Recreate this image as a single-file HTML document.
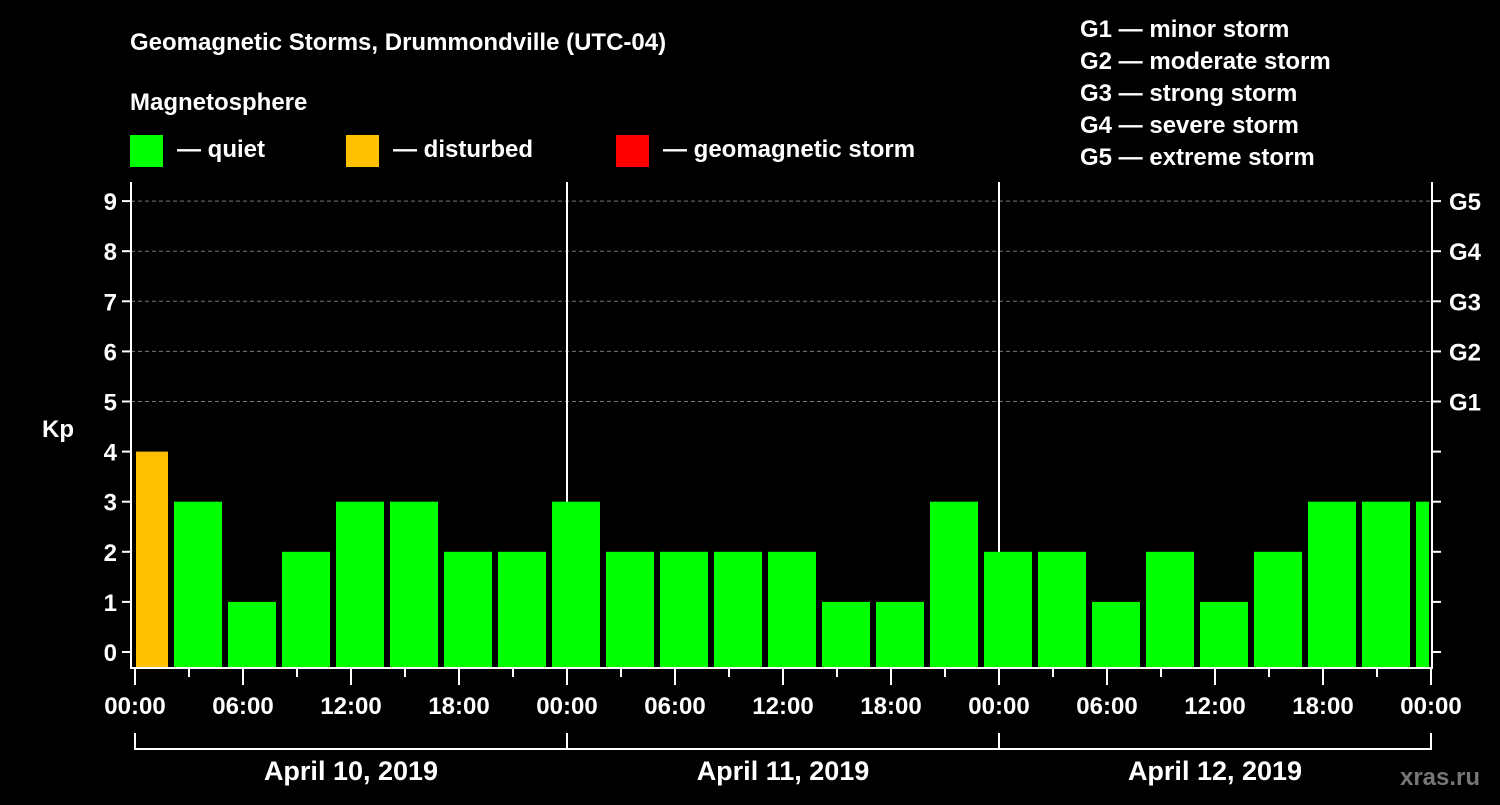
<!DOCTYPE html>
<html><head><meta charset="utf-8"><style>
body{margin:0;background:#000;width:1500px;height:800px;overflow:hidden}
text{font-family:"Liberation Sans",Arial,sans-serif;font-weight:bold;fill:#fff}
</style></head><body>
<svg id="c" width="1500" height="800">
<text x="130" y="50" font-size="24">Geomagnetic Storms, Drummondville (UTC-04)</text>
<text x="130" y="110" font-size="24">Magnetosphere</text>
<g><rect x="130" y="135" width="33" height="32" fill="#00ff00"/><text x="177" y="157" font-size="24">— quiet</text></g>
<g><rect x="346" y="135" width="33" height="32" fill="#ffc000"/><text x="393" y="157" font-size="24">— disturbed</text></g>
<g><rect x="616" y="135" width="33" height="32" fill="#ff0000"/><text x="663" y="157" font-size="24">— geomagnetic storm</text></g>
<g font-size="24">
<text x="1080" y="37">G1 — minor storm</text><text x="1080" y="69">G2 — moderate storm</text><text x="1080" y="101">G3 — strong storm</text><text x="1080" y="133">G4 — severe storm</text><text x="1080" y="165">G5 — extreme storm</text></g>
<text x="42" y="437" font-size="24">Kp</text>
<text x="1440" y="785" font-size="24" fill="#777" style="fill:#777" text-anchor="middle">xras.ru</text>
<g id="grid"></g><g id="bars"></g><g id="axes"></g>
</svg>
<script>
const barStartHours=[-1,2,5,8,11,14,17,20,23,26,29,32,35,38,41,44,47,50,53,56,59,62,65,68,71];
const kpValues=[4,3,1,2,3,3,2,2,3,2,2,2,2,1,1,3,2,2,1,2,1,2,3,3,3];
const yTicks=[0,1,2,3,4,5,6,7,8,9];
const gLabels=["G1","G2","G3","G4","G5"];
const xLabels=["00:00","06:00","12:00","18:00","00:00","06:00","12:00","18:00","00:00","06:00","12:00","18:00","00:00"];
const dayLabels=["April 10, 2019","April 11, 2019","April 12, 2019"];
const NS="http://www.w3.org/2000/svg";
const X0=135,HP=18,Y0=652,UY=50.1,L=131,R=1432,T=182,B=668,HMAX=72;
const x=h=>X0+h*HP, y=v=>Y0-v*UY;
function mk(p,tag,a){const e=document.createElementNS(NS,tag);for(const k in a)e.setAttribute(k,a[k]);p.appendChild(e);return e;}
const grid=document.getElementById('grid'),bars=document.getElementById('bars'),axes=document.getElementById('axes');
yTicks.forEach(v=>{if(v>=5){const l=mk(grid,'line',{x1:L,x2:R,y1:y(v),y2:y(v),stroke:'#777','stroke-dasharray':'4,3'});

}});
[24,48].forEach(h=>{const l=mk(grid,'line',{x1:x(h),x2:x(h),y1:T,y2:B,stroke:'#fff','stroke-width':2});

});
barStartHours.forEach((h,i)=>{const v=kpValues[i];let a=Math.max(x(h)+3,x(0)+1),b=Math.min(x(h+3)-3,x(HMAX)-2);
const col=v>=5?'#ff0000':v>=4?'#ffc000':'#00ff00';
const r=mk(bars,'rect',{x:a,y:y(v),width:b-a,height:B-y(v),fill:col});

});
const fr=mk(axes,'path',{d:`M${L},${T}V${B}H${R}V${T}`,stroke:'#fff','stroke-width':2,fill:'none'});


yTicks.forEach(v=>{mk(axes,'line',{x1:L-9,x2:L,y1:y(v),y2:y(v),stroke:'#fff','stroke-width':2});
mk(axes,'line',{x1:R,x2:R+9,y1:y(v),y2:y(v),stroke:'#fff','stroke-width':2});
const t=mk(axes,'text',{x:L-14,y:y(v)+9,'font-size':24,'text-anchor':'end'});t.textContent=v;

});
gLabels.forEach((g,i)=>{const t=mk(axes,'text',{x:1449,y:y(5+i)+9,'font-size':24});t.textContent=g;

});
for(let h=0;h<=HMAX;h+=3){mk(axes,'line',{x1:x(h),x2:x(h),y1:B,y2:B+(h%6?9:17),stroke:'#fff','stroke-width':2});}
xLabels.forEach((s,i)=>{const t=mk(axes,'text',{x:x(i*6),y:714,'font-size':24,'text-anchor':'middle'});t.textContent=s;

});
dayLabels.forEach((s,i)=>{const p=mk(axes,'path',{d:`M${x(i*24)},733V749H${x(i*24+24)}V733`,stroke:'#fff','stroke-width':2,fill:'none'});


const t=mk(axes,'text',{x:x(i*24+12),y:780,'font-size':27,'text-anchor':'middle'});t.textContent=s;

});
</script>
</body></html>
